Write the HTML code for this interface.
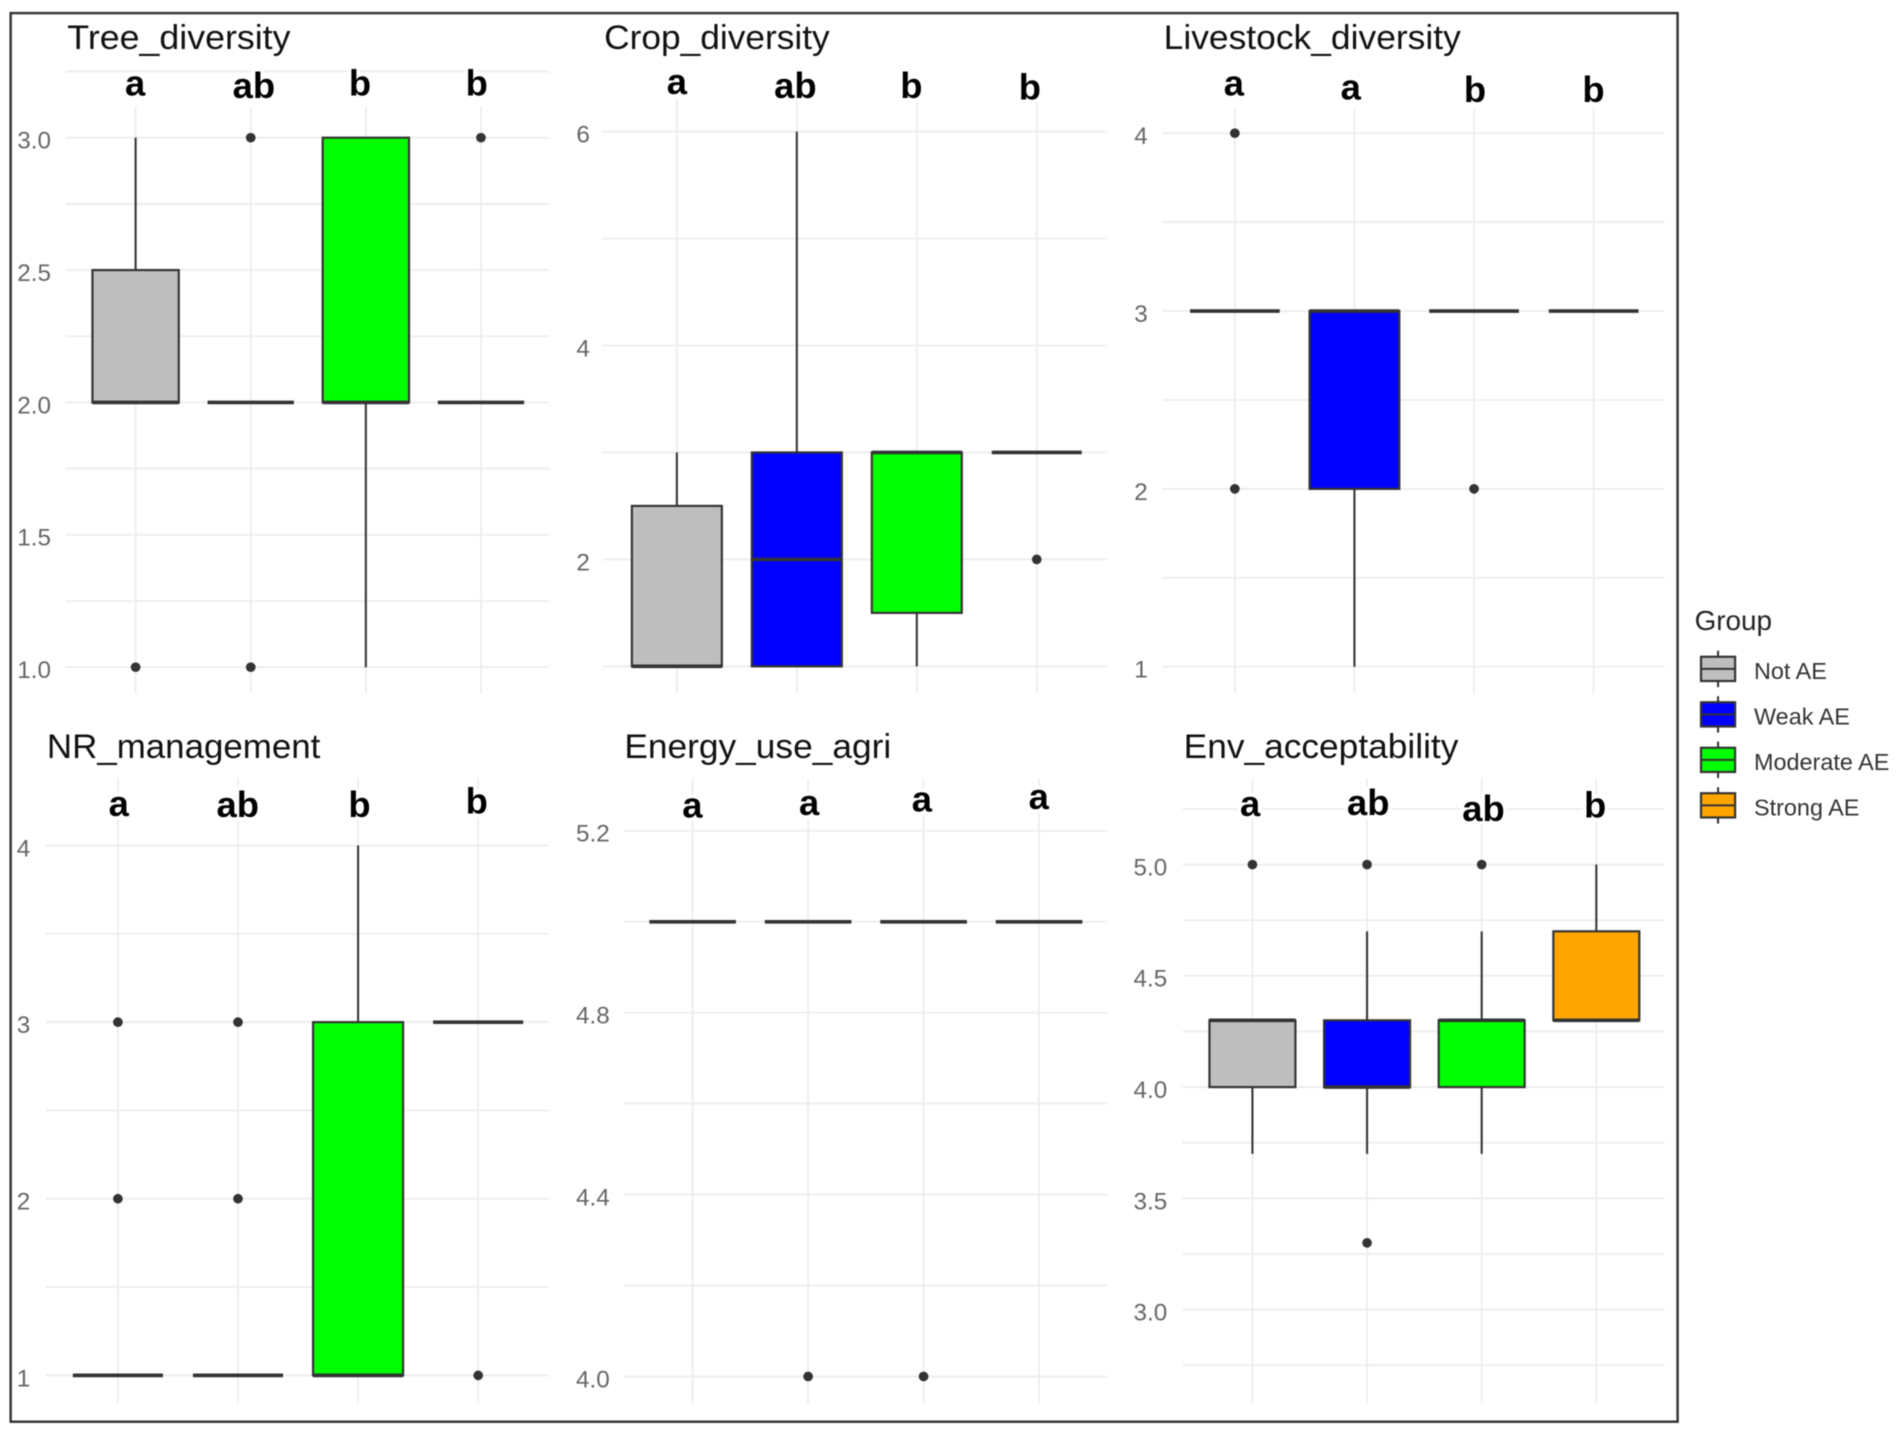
<!DOCTYPE html>
<html lang="en">
<head>
<meta charset="utf-8">
<title>Boxplots of agroecology indicators by group</title>
<style>
html,body{margin:0;padding:0;background:#fff;width:1902px;height:1433px;overflow:hidden}
svg{display:block;filter:blur(0.45px)}
text{font-family:"Liberation Sans",Arial,sans-serif}
.title{font-size:28px;fill:#111}
.letter{font-size:30px;font-weight:bold;fill:#000;text-anchor:middle;paint-order:stroke;stroke:#fff;stroke-width:6px;stroke-linejoin:round}
.tick{font-size:20px;fill:#666}
.legend-title{font-size:23px;fill:#222}
.legend-label{font-size:19.3px;fill:#333}
</style>
</head>
<body>
<svg id="chart" xmlns="http://www.w3.org/2000/svg" width="1902" height="1433" viewBox="0 0 1568 1181.3" preserveAspectRatio="none">
  <rect x="8.8" y="10.8" width="1374.2" height="1161.2" fill="#fff" stroke="#333" stroke-width="2"/>
  <g id="marks"></g>

  <text class="title" x="55.5" y="40.5" textLength="184" lengthAdjust="spacingAndGlyphs">Tree_diversity</text>
  <text class="title" x="498" y="40.5" textLength="186" lengthAdjust="spacingAndGlyphs">Crop_diversity</text>
  <text class="title" x="959.3" y="40.5" textLength="245" lengthAdjust="spacingAndGlyphs">Livestock_diversity</text>
  <text class="title" x="38.7" y="625" textLength="225.4" lengthAdjust="spacingAndGlyphs">NR_management</text>
  <text class="title" x="514.7" y="625" textLength="220" lengthAdjust="spacingAndGlyphs">Energy_use_agri</text>
  <text class="title" x="975.8" y="625" textLength="226.5" lengthAdjust="spacingAndGlyphs">Env_acceptability</text>

  <g>
    <text class="letter" x="111.4" y="78.7">a</text>
    <text class="letter" x="209.3" y="80.6">ab</text>
    <text class="letter" x="296.8" y="78.7">b</text>
    <text class="letter" x="393" y="78.7">b</text>
  </g>
  <g>
    <text class="letter" x="558" y="77.6">a</text>
    <text class="letter" x="655.7" y="80.6">ab</text>
    <text class="letter" x="751.3" y="80.6">b</text>
    <text class="letter" x="849" y="82">b</text>
  </g>
  <g>
    <text class="letter" x="1017.2" y="78.7">a</text>
    <text class="letter" x="1113.6" y="82">a</text>
    <text class="letter" x="1216" y="84">b</text>
    <text class="letter" x="1313.7" y="84">b</text>
  </g>
  <g>
    <text class="letter" x="97.9" y="672.6">a</text>
    <text class="letter" x="196" y="673.3">ab</text>
    <text class="letter" x="296.4" y="673.3">b</text>
    <text class="letter" x="393" y="670.6">b</text>
  </g>
  <g>
    <text class="letter" x="570.8" y="673.9">a</text>
    <text class="letter" x="667" y="672">a</text>
    <text class="letter" x="760" y="669">a</text>
    <text class="letter" x="856.3" y="667">a</text>
  </g>
  <g>
    <text class="letter" x="1030.6" y="672.7">a</text>
    <text class="letter" x="1128" y="672">ab</text>
    <text class="letter" x="1223" y="676.6">ab</text>
    <text class="letter" x="1315" y="673.9">b</text>
  </g>

  <text class="legend-title" x="1397" y="519.4">Group</text>
  <g id="legend"></g>
</svg>

<script>
// ---------- data ----------
const categories = ['Not AE', 'Weak AE', 'Moderate AE', 'Strong AE'];

const treeQ1 = [2, 2, 2, 2];
const treeMedian = [2, 2, 2, 2];
const treeQ3 = [2.5, 2, 3, 2];
const treeWhiskerLow = [2, 2, 1, 2];
const treeWhiskerHigh = [3, 2, 3, 2];
const treeOutliers = [[1], [3, 1], [], [3]];
const treeTicks = ['1.0', '1.5', '2.0', '2.5', '3.0'];
const treeMinor = [1.25, 1.75, 2.25, 2.75, 3.25];

const cropQ1 = [1, 1, 1.5, 3];
const cropMedian = [1, 2, 3, 3];
const cropQ3 = [2.5, 3, 3, 3];
const cropWhiskerLow = [1, 1, 1, 3];
const cropWhiskerHigh = [3, 6, 3, 3];
const cropOutliers = [[], [], [], [2]];
const cropTicks = ['2', '4', '6'];
const cropMinor = [1, 3, 5];

const livestockQ1 = [3, 2, 3, 3];
const livestockMedian = [3, 3, 3, 3];
const livestockQ3 = [3, 3, 3, 3];
const livestockWhiskerLow = [3, 1, 3, 3];
const livestockWhiskerHigh = [3, 3, 3, 3];
const livestockOutliers = [[4, 2], [], [2], []];
const livestockTicks = ['1', '2', '3', '4'];
const livestockMinor = [1.5, 2.5, 3.5];

const nrQ1 = [1, 1, 1, 3];
const nrMedian = [1, 1, 1, 3];
const nrQ3 = [1, 1, 3, 3];
const nrWhiskerLow = [1, 1, 1, 3];
const nrWhiskerHigh = [1, 1, 4, 3];
const nrOutliers = [[3, 2], [3, 2], [], [1]];
const nrTicks = ['1', '2', '3', '4'];
const nrMinor = [1.5, 2.5, 3.5];

const energyQ1 = [5, 5, 5, 5];
const energyMedian = [5, 5, 5, 5];
const energyQ3 = [5, 5, 5, 5];
const energyWhiskerLow = [5, 5, 5, 5];
const energyWhiskerHigh = [5, 5, 5, 5];
const energyOutliers = [[], [4], [4], []];
const energyTicks = ['4.0', '4.4', '4.8', '5.2'];
const energyMinor = [4.2, 4.6, 5.0];

const envQ1 = [4, 4, 4, 4.3];
const envMedian = [4.3, 4, 4.3, 4.3];
const envQ3 = [4.3, 4.3, 4.3, 4.7];
const envWhiskerLow = [3.7, 3.7, 3.7, 4.3];
const envWhiskerHigh = [4.3, 4.7, 4.7, 5];
const envOutliers = [[5], [5, 3.3], [5], []];
const envTicks = ['3.0', '3.5', '4.0', '4.5', '5.0'];
const envMinor = [2.75, 3.25, 3.75, 4.25, 4.75, 5.25];

// ---------- styling ----------
const groupFills = ['#bebebe', '#0000ff', '#00ff00', '#ffa500'];
const GRID = '#ececec';
const INK = '#333333';
const NS = 'http://www.w3.org/2000/svg';

function make(tag, attrs, parent) {
  const node = document.createElementNS(NS, tag);
  Object.keys(attrs).forEach(function (k) { node.setAttribute(k, attrs[k]); });
  parent.appendChild(node);
  return node;
}

function slug(s) { return s.toLowerCase().replace(/[^a-z0-9]+/g, '-'); }

// ---------- panels: scale anchors and plot extents ----------
const panels = [
  { id: 'tree', d0: 1, d1: 3, r0: 550, r1: 113.5, cx: 111.8, dx: 94.9, left: 54, right: 452.6, top: 88, bottom: 571.5, tickEnd: 42,
    q1: treeQ1, med: treeMedian, q3: treeQ3, lo: treeWhiskerLow, hi: treeWhiskerHigh, out: treeOutliers, ticks: treeTicks, minor: treeMinor },
  { id: 'crop', d0: 1, d1: 6, r0: 549.3, r1: 108.5, cx: 558, dx: 98.9, left: 497, right: 912.8, top: 82, bottom: 571.5, tickEnd: 486.3,
    q1: cropQ1, med: cropMedian, q3: cropQ3, lo: cropWhiskerLow, hi: cropWhiskerHigh, out: cropOutliers, ticks: cropTicks, minor: cropMinor },
  { id: 'livestock', d0: 1, d1: 4, r0: 549.6, r1: 109.8, cx: 1018, dx: 98.6, left: 958.4, right: 1372.5, top: 89, bottom: 571.5, tickEnd: 946.2,
    q1: livestockQ1, med: livestockMedian, q3: livestockQ3, lo: livestockWhiskerLow, hi: livestockWhiskerHigh, out: livestockOutliers, ticks: livestockTicks, minor: livestockMinor },
  { id: 'nr', d0: 1, d1: 4, r0: 1133.8, r1: 697, cx: 97.2, dx: 99, left: 37.7, right: 452.6, top: 642, bottom: 1157, tickEnd: 25,
    q1: nrQ1, med: nrMedian, q3: nrQ3, lo: nrWhiskerLow, hi: nrWhiskerHigh, out: nrOutliers, ticks: nrTicks, minor: nrMinor },
  { id: 'energy', d0: 4, d1: 5.2, r0: 1134.7, r1: 684.9, cx: 571, dx: 95.2, left: 513.8, right: 912.8, top: 642, bottom: 1157, tickEnd: 502.7,
    q1: energyQ1, med: energyMedian, q3: energyQ3, lo: energyWhiskerLow, hi: energyWhiskerHigh, out: energyOutliers, ticks: energyTicks, minor: energyMinor },
  { id: 'env', d0: 3, d1: 5, r0: 1079.6, r1: 712.7, cx: 1032.5, dx: 94.5, left: 975, right: 1372.5, top: 642, bottom: 1157, tickEnd: 962.3,
    q1: envQ1, med: envMedian, q3: envQ3, lo: envWhiskerLow, hi: envWhiskerHigh, out: envOutliers, ticks: envTicks, minor: envMinor }
];

function drawPanel(p, root) {
  const y = function (v) { return p.r0 + (v - p.d0) * (p.r1 - p.r0) / (p.d1 - p.d0); };
  const x = function (i) { return p.cx + i * p.dx; };
  const halfBox = p.dx * 0.375;

  const g = make('g', {}, root);
  
  

  // horizontal grid
  p.minor.concat(p.ticks.map(Number)).forEach(function (v) {
    const line = make('line', { x1: p.left, x2: p.right, y1: y(v), y2: y(v), stroke: GRID, 'stroke-width': 1.4 }, g);
    
    
  });

  // vertical grid
  categories.forEach(function (c, i) {
    const line = make('line', { x1: x(i), x2: x(i), y1: p.top, y2: p.bottom, stroke: GRID, 'stroke-width': 1.4 }, g);
    
    
  });

  // tick labels
  p.ticks.forEach(function (t) {
    const label = make('text', { x: p.tickEnd, y: y(Number(t)) + 9, 'text-anchor': 'end', class: 'tick' }, g);
    
    
    label.textContent = t;
  });

  // boxes
  categories.forEach(function (c, i) {
    const box = make('g', {}, g);
    
    

    if (p.hi[i] > p.q3[i]) {
      const up = make('line', { x1: x(i), x2: x(i), y1: y(p.q3[i]), y2: y(p.hi[i]), stroke: INK, 'stroke-width': 1.7 }, box);
      
      
    }
    if (p.lo[i] < p.q1[i]) {
      const down = make('line', { x1: x(i), x2: x(i), y1: y(p.q1[i]), y2: y(p.lo[i]), stroke: INK, 'stroke-width': 1.7 }, box);
      
      
    }
    if (p.q3[i] > p.q1[i]) {
      const rect = make('rect', {
        x: x(i) - halfBox, width: halfBox * 2,
        y: y(p.q3[i]), height: y(p.q1[i]) - y(p.q3[i]),
        fill: groupFills[i], stroke: INK, 'stroke-width': 1.8
      }, box);
      
      
    }
    const med = make('line', {
      x1: x(i) - halfBox, x2: x(i) + halfBox,
      y1: y(p.med[i]), y2: y(p.med[i]), stroke: INK, 'stroke-width': 3
    }, box);
    
    

    p.out[i].forEach(function (v) {
      const dot = make('circle', { cx: x(i), cy: y(v), r: 4, fill: INK }, box);
      
      
    });
  });
}

panels.forEach(function (p) { drawPanel(p, document.getElementById('marks')); });

// ---------- legend ----------
const legendRoot = document.getElementById('legend');
const legX = 1402.3, legW = 28.1, legH = 20, legTop = 541.4, legStep = 37.5;
categories.forEach(function (c, i) {
  const top = legTop + i * legStep;
  const mid = top + legH / 2;
  const cxKey = legX + legW / 2;
  const entry = make('g', {}, legendRoot);
  
  

  const w = make('line', { x1: cxKey, x2: cxKey, y1: top - 5, y2: top + legH + 5, stroke: INK, 'stroke-width': 1.7 }, entry);
  
  

  const r = make('rect', { x: legX, y: top, width: legW, height: legH, fill: groupFills[i], stroke: INK, 'stroke-width': 1.8 }, entry);
  
  

  const m = make('line', { x1: legX, x2: legX + legW, y1: mid, y2: mid, stroke: INK, 'stroke-width': 1.7 }, entry);
  
  

  const t = make('text', { x: 1446, y: mid + 8.4, class: 'legend-label' }, entry);
  
  
  t.textContent = c;
});
</script>
</body>
</html>
